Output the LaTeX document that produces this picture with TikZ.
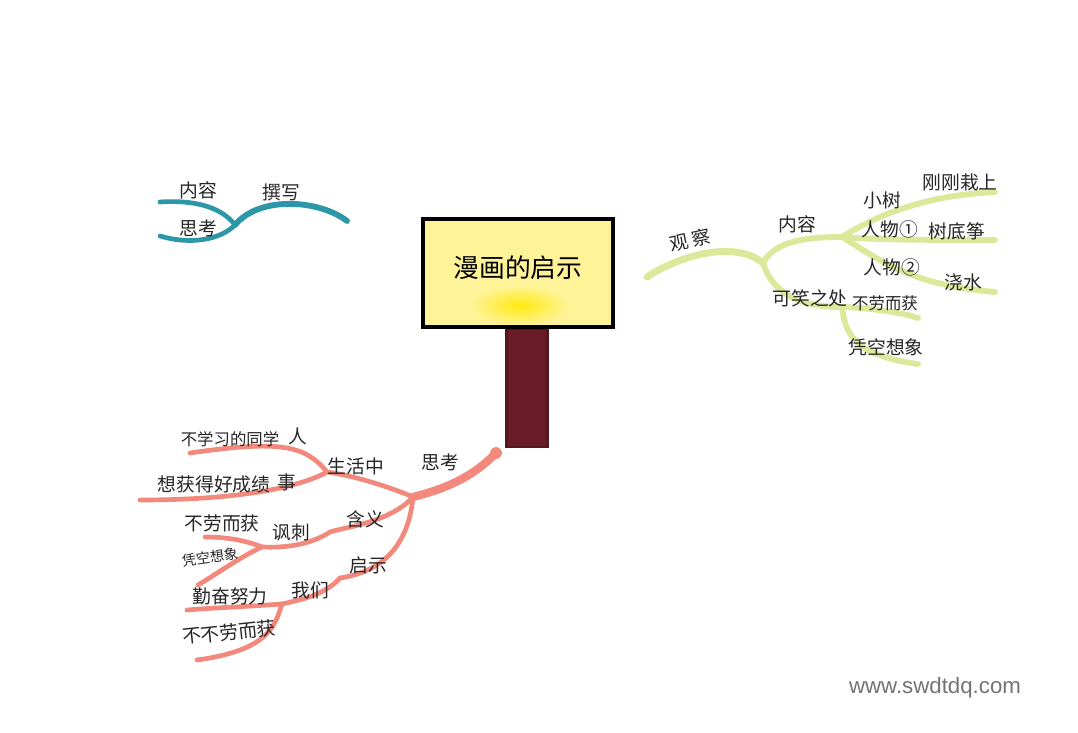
\documentclass[tikz,border=0pt]{standalone}
\usepackage{fontspec}
\newfontfamily\cjk{Noto Sans CJK SC}
\newfontfamily\wmfont{Liberation Sans}
\definecolor{teal1}{HTML}{2C97A6}
\definecolor{lime1}{HTML}{DDE99A}
\definecolor{salmon1}{HTML}{F3887C}
\definecolor{signy}{HTML}{FFF39A}
\definecolor{signc}{HTML}{FFEA10}
\definecolor{post}{HTML}{6A1C26}
\tikzset{
  lbl/.style={font=\cjk\fontsize{16}{18}\selectfont, text=black!85, inner sep=1pt},
  small/.style={font=\cjk\fontsize{14}{16}\selectfont},
  tealbr/.style={draw=teal1, line width=4pt, line cap=round},
  limebr/.style={draw=lime1, line width=5pt, line cap=round},
  salbr/.style={draw=salmon1, line width=4pt, line cap=round},
}
\begin{document}
\begin{tikzpicture}[x=0.03cm, y=-0.03cm]
\useasboundingbox (0,0) rectangle (1078,733);
\fill[white] (0,0) rectangle (1078,733);

% ---------- sign ----------
\node[draw=post!80!black, fill=post, line width=2pt, minimum width=41*0.03cm, minimum height=118*0.03cm, inner sep=0] (post) at (527,388) {};
\node[fill=signy, minimum width=190*0.03cm, minimum height=108*0.03cm, inner sep=0] (sign) at (518,273) {};
\shade[inner color=signc, outer color=signy] (470,285) rectangle (570,326);
\draw[black, line width=3.5pt] (sign.north west) rectangle (sign.south east);
\node[font=\cjk\fontsize{22}{24}\selectfont, text=black] (title) at (518,268) {漫画的启示};

% ---------- teal branch (top-left) ----------
\coordinate (t0) at (347,221);
\coordinate (tj) at (235,225);
\coordinate (tu) at (160,202);
\coordinate (td) at (160,236);
\draw[tealbr, line width=5pt] (t0) .. controls (320,200) and (260,195) .. (tj);
\draw[tealbr] (tj) .. controls (220,205) and (190,200) .. (tu);
\draw[tealbr] (tj) .. controls (220,240) and (190,245) .. (td);
\node[lbl] (n1) at (198,190) {内容};
\node[lbl] (n2) at (281,192) {撰写};
\node[lbl] (n3) at (198,228) {思考};

% ---------- lime branch (right) ----------
\coordinate (g0) at (647,277);
\coordinate (gj) at (763,263);
\coordinate (gj2) at (842,237);
\coordinate (gj3) at (842,307);
\coordinate (ga) at (995,192);
\coordinate (gb) at (995,240);
\coordinate (gc) at (995,292);
\coordinate (gd) at (918,318);
\coordinate (ge) at (918,364);
\draw[limebr, line width=6pt] (g0) .. controls (680,255) and (735,240) .. (gj);
\draw[limebr] (gj) .. controls (775,240) and (810,237) .. (gj2);
\draw[limebr] (gj2) .. controls (880,213) and (930,195) .. (ga);
\draw[limebr] (gj2) .. controls (880,240) and (930,240) .. (gb);
\draw[limebr] (gj2) .. controls (880,260) and (910,285) .. (gc);
\draw[limebr] (gj) .. controls (775,300) and (810,307) .. (gj3);
\draw[limebr] (gj3) .. controls (870,308) and (900,312) .. (gd);
\draw[limebr] (gj3) .. controls (845,330) and (850,355) .. (ge);
\node[lbl, rotate=12] (m1) at (690,240) {观\,察};
\node[lbl] (m2) at (797,224) {内容};
\node[lbl] (m3) at (882,200) {小树};
\node[lbl] (m4) at (960,182) {刚刚栽上};
\node[lbl] (m5) at (890,229) {人物①};
\node[lbl] (m6) at (957,231) {树底筝};
\node[lbl] (m7) at (892,267) {人物②};
\node[lbl] (m8) at (963,282) {浇水};
\node[lbl] (m9) at (810,298) {可笑之处};
\node[lbl, small] (m10) at (885,303) {不劳而获};
\node[lbl] (m11) at (886,347) {凭空想象};

% ---------- salmon branch (bottom-left) ----------
\coordinate (s0) at (496,453);
\coordinate (sj) at (413,497);
\coordinate (sa) at (327,472);
\coordinate (sb) at (262,547);
\coordinate (sc) at (282,604);
\coordinate (s1) at (190,453);
\coordinate (s2) at (140,500);
\coordinate (s3) at (205,537);
\coordinate (s4) at (198,585);
\coordinate (s5) at (187,610);
\coordinate (s6) at (197,660);
\fill[salmon1] (s0) circle (5pt);
\draw[salbr, line width=7pt] (s0) .. controls (470,480) and (440,490) .. (sj);
\draw[salbr] (sj) .. controls (385,485) and (350,475) .. (sa);
\draw[salbr] (sa) .. controls (305,445) and (280,440) .. (s1);
\draw[salbr] (sa) .. controls (300,487) and (240,500) .. (s2);
\draw[salbr] (sj) .. controls (390,523) and (340,528) .. (330,532)
  .. controls (310,545) and (285,548) .. (sb);
\draw[salbr] (sb) .. controls (245,540) and (225,537) .. (s3);
\draw[salbr] (sb) .. controls (240,557) and (215,575) .. (s4);
\draw[salbr] (sj) .. controls (410,530) and (395,570) .. (340,578)
  .. controls (325,595) and (300,600) .. (sc);
\draw[salbr] (sc) .. controls (240,607) and (210,608) .. (s5);
\draw[salbr] (sc) .. controls (275,625) and (270,650) .. (s6);
\node[lbl] (r1) at (440,462) {思考};
\node[lbl] (r2) at (356,466) {生活中};
\node[lbl] (r3) at (298,436) {人};
\node[lbl, small] (r4) at (230,439) {不学习的同学};
\node[lbl] (r5) at (287,482) {事};
\node[lbl] (r6) at (214,484) {想获得好成绩};
\node[lbl] (r7) at (365,519) {含义};
\node[lbl] (r8) at (291,532) {讽刺};
\node[lbl] (r9) at (222,523) {不劳而获};
\node[lbl, rotate=8, font=\cjk\fontsize{12}{14}\selectfont] (r10) at (210,557) {凭空想象};
\node[lbl] (r11) at (368,565) {启示};
\node[lbl] (r12) at (310,590) {我们};
\node[lbl] (r13) at (230,596) {勤奋努力};
\node[lbl, rotate=6] (r14) at (229,632) {不不劳而获};

% ---------- watermark ----------
\node[font=\wmfont\fontsize{19}{22}\selectfont, text=black!55] (wm) at (935,688) {www.swdtdq.com};
\end{tikzpicture}
\end{document}
